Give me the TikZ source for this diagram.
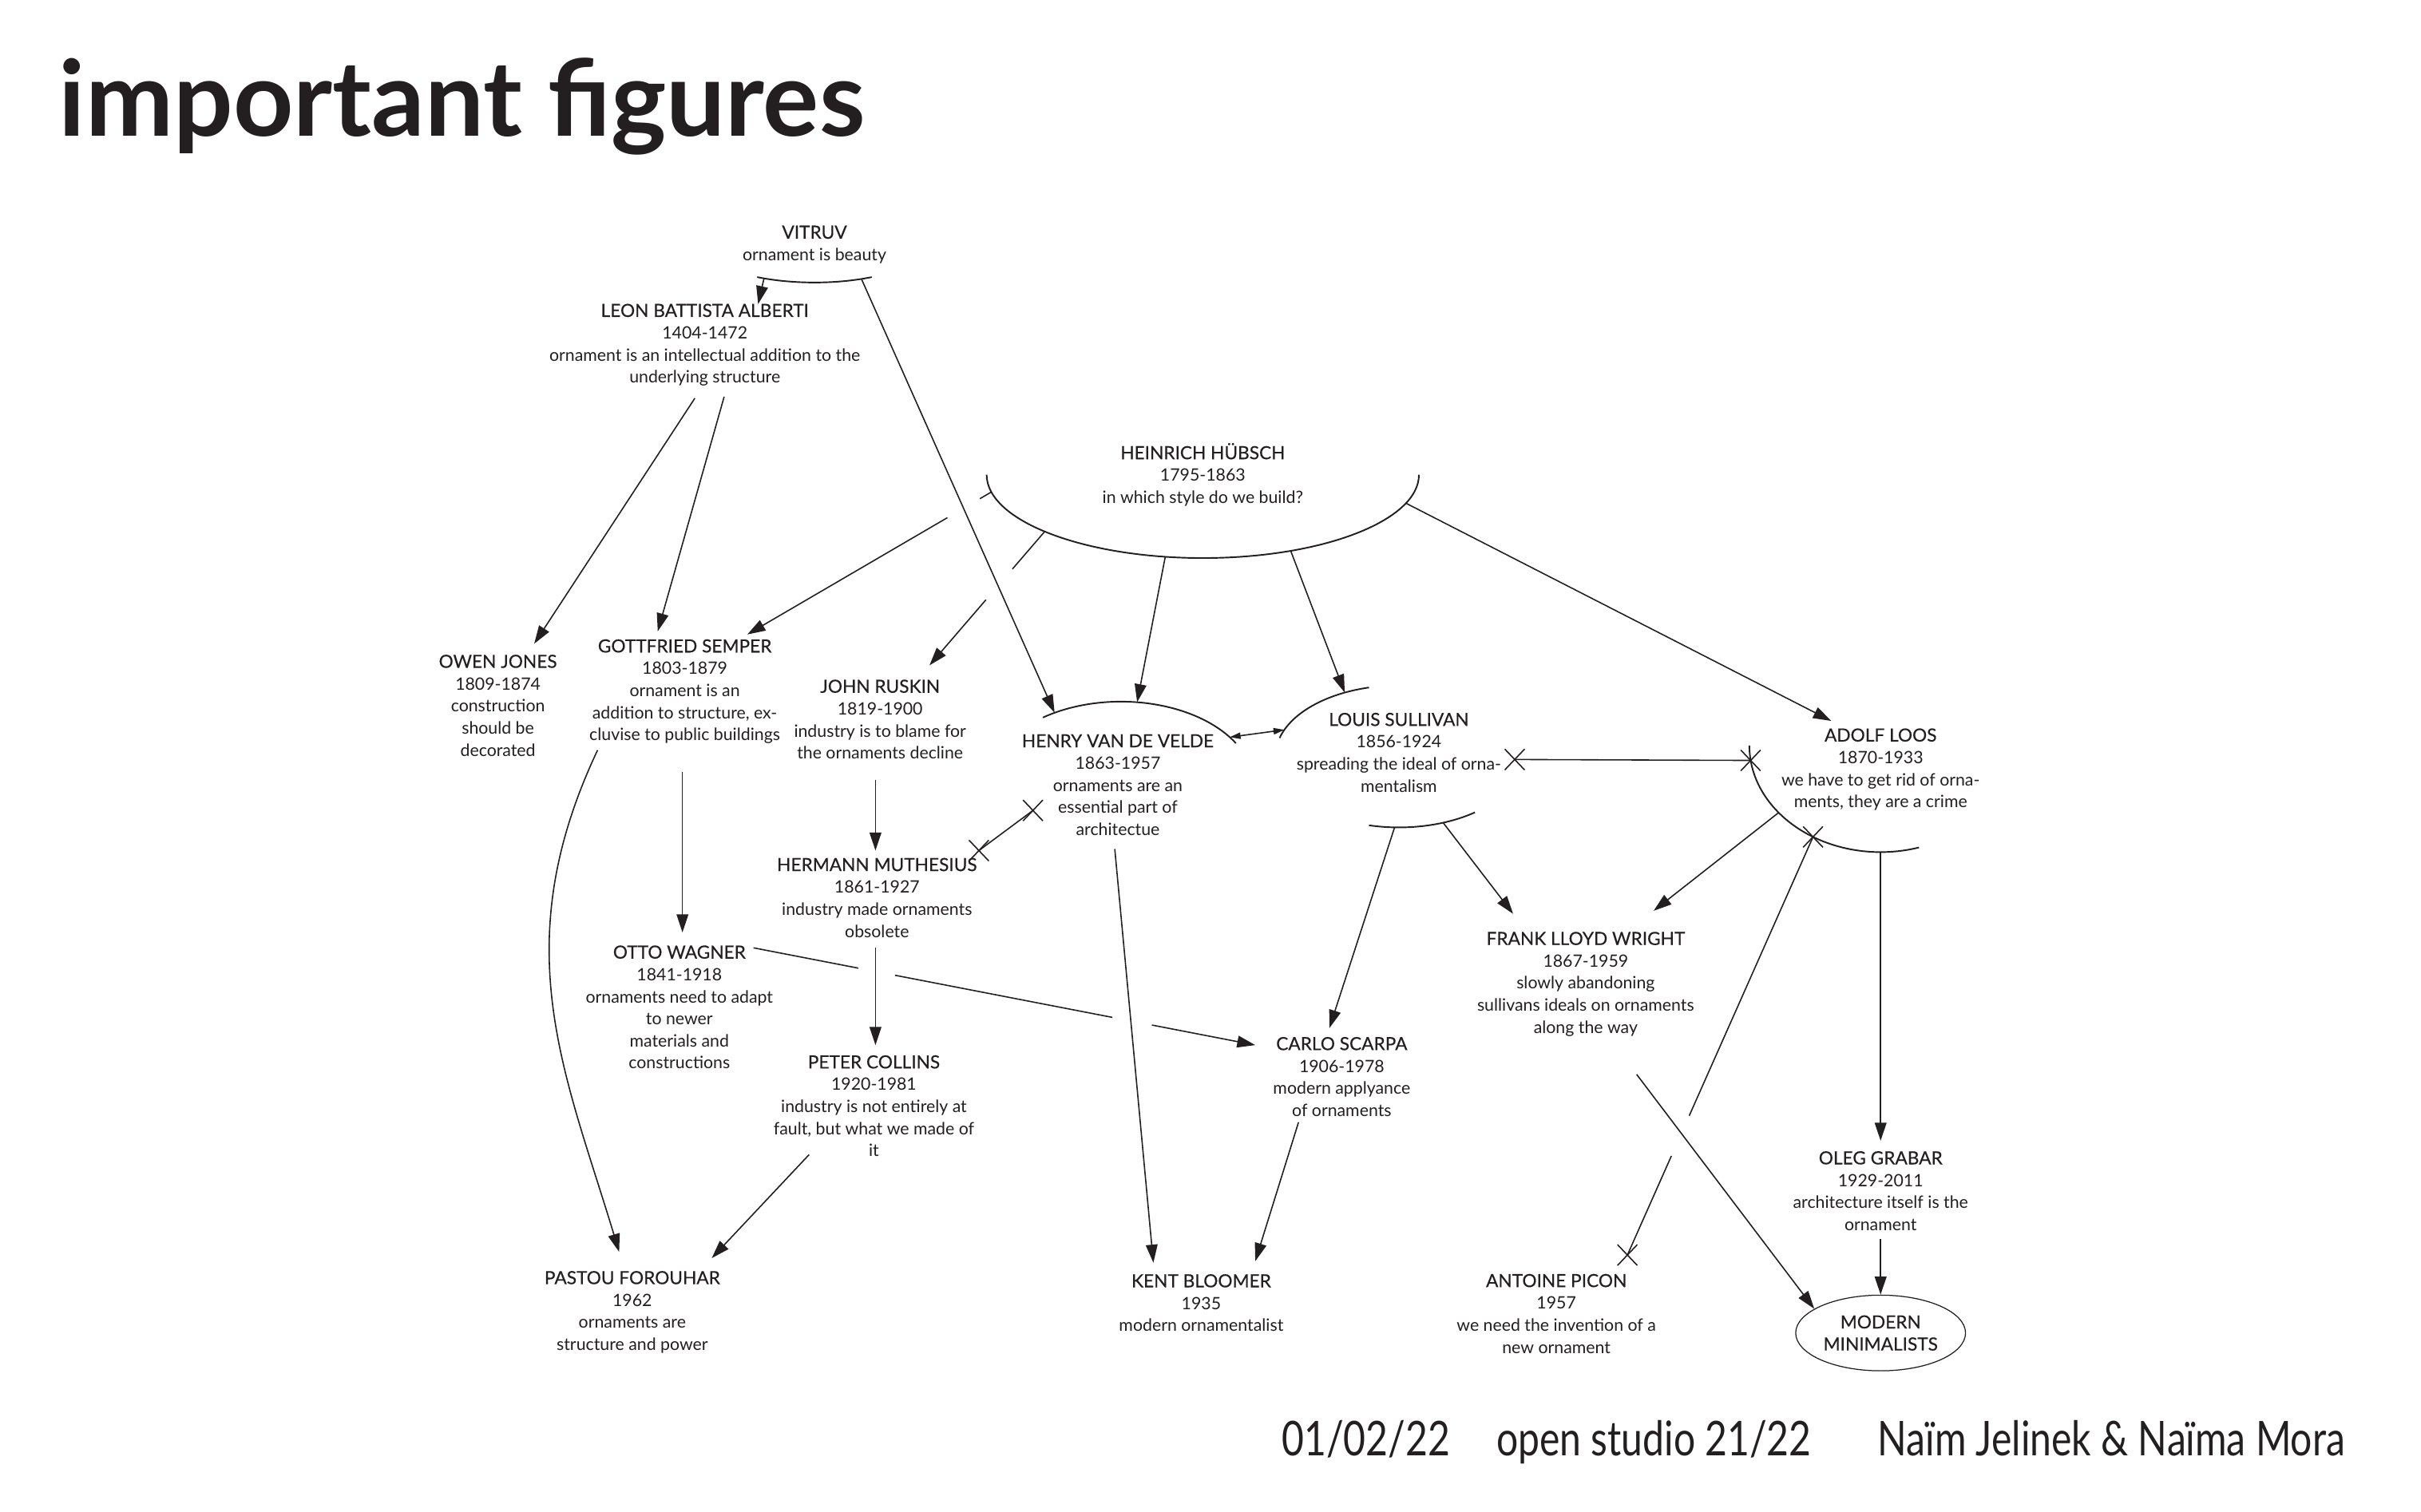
\documentclass[tikz,border=0pt]{standalone}
\usepackage{fontspec}
\setmainfont{Lato}
\newfontfamily\footfont{Lato}[FakeStretch=0.8]
\newfontfamily\namefont{Lato}[FakeBold=0.35]
\newcommand\who[1]{{\namefont\fontsize{10}{12.2}\selectfont #1}}
\usetikzlibrary{positioning,arrows.meta,shapes.geometric,shapes.misc,calc}
\definecolor{Ink}{RGB}{35,31,32}

\begin{document}
\begin{tikzpicture}[
    x=0.03cm, y=-0.03cm,
    person/.style={align=center, inner sep=0pt, text=Ink,
        font=\fontsize{9.4}{12.2}\selectfont},
    wire/.style={draw=Ink, line width=0.7pt},
    wirearrow/.style={wire, -{Triangle[length=10pt,width=6.5pt]}},
    wirepair/.style={wire, {Triangle[length=6pt,width=3.5pt]}-{Triangle[length=6pt,width=3.5pt]}},
    xmark/.style={cross out, draw=Ink, line width=0.7pt, inner sep=0pt,
        minimum width=0.36cm, minimum height=0.38cm},
    rim/.style={draw=Ink, line width=0.85pt},
    footer/.style={anchor=base west, inner sep=0pt, text=Ink,
        font=\footfont\fontsize{26.5}{28}\selectfont},
]
\path[use as bounding box, fill=white] (0,0) rectangle (1568,979);

\node[anchor=base west, inner sep=0pt, text=Ink,
    font=\fontsize{58}{62}\selectfont\bfseries] (title) at (38,88) {important figures};

% the figures
\node[person] (vitruv) at (527.5,158.5) {\who{VITRUV}\\ornament is beauty};
\node[person] (alberti) at (456.5,223.5) {\who{LEON BATTISTA ALBERTI}\\1404-1472\\ornament is an intellectual addition to the\\underlying structure};
\node[person] (huebsch) at (779,307.5) {\who{HEINRICH HÜBSCH}\\1795-1863\\in which style do we build?};
\node[person] (jones) at (322.5,457) {\who{OWEN JONES}\\1809-1874\\construction\\should be\\decorated};
\node[person] (semper) at (443.5,448) {\who{GOTTFRIED SEMPER}\\1803-1879\\ornament is an\\addition to structure, ex-\\cluvise to public buildings};
\node[person] (ruskin) at (570,466) {\who{JOHN RUSKIN}\\1819-1900\\industry is to blame for\\the ornaments decline};
\node[person] (velde) at (724,508.5) {\who{HENRY VAN DE VELDE}\\1863-1957\\ornaments are an\\essential part of\\architectue};
\node[person] (sullivan) at (906,487.5) {\who{LOUIS SULLIVAN}\\1856-1924\\spreading the ideal of orna-\\mentalism};
\node[person] (loos) at (1218,498.5) {\who{ADOLF LOOS}\\1870-1933\\we have to get rid of orna-\\ments, they are a crime};
\node[person] (muthesius) at (568,581.5) {\who{HERMANN MUTHESIUS}\\1861-1927\\industry made ornaments\\obsolete};
\node[person] (wagner) at (440,652.5) {\who{OTTO WAGNER}\\1841-1918\\ornaments need to adapt\\to newer\\materials and\\constructions};
\node[person] (collins) at (566,716.5) {\who{PETER COLLINS}\\1920-1981\\industry is not entirely at\\fault, but what we made of\\it};
\node[person] (wright) at (1027,637.5) {\who{FRANK LLOYD WRIGHT}\\1867-1959\\slowly abandoning\\sullivans ideals on ornaments\\along the way};
\node[person] (scarpa) at (869,697.5) {\who{CARLO SCARPA}\\1906-1978\\modern applyance\\of ornaments};
\node[person] (grabar) at (1218,771.5) {\who{OLEG GRABAR}\\1929-2011\\architecture itself is the\\ornament};
\node[person] (forouhar) at (409.5,850) {\who{PASTOU FOROUHAR}\\1962\\ornaments are\\structure and power};
\node[person] (bloomer) at (778,844) {\who{KENT BLOOMER}\\1935\\modern ornamentalist};
\node[person] (picon) at (1008,851) {\who{ANTOINE PICON}\\1957\\we need the invention of a\\new ornament};
\node[person, ellipse, draw=Ink, line width=0.55pt, minimum width=3.3cm,
    minimum height=1.47cm] (minimal) at (1218,863.5) {\who{MODERN}\\\who{MINIMALISTS}};

% rims round some of the figures
\draw[rim] (vitruv.center) ++(59:72 and 24.5) arc[start angle=59, end angle=121, x radius=72, y radius=24.5];
\draw[rim] (huebsch.center) ++(0:140 and 54) arc[start angle=0, end angle=180, x radius=140, y radius=54];
\draw[rim] (velde.center) ++(2,0) ++(234:86 and 54) arc[start angle=234, end angle=330, x radius=86, y radius=54];
\draw[rim] (sullivan.center) ++(0,2.5) ++(195:80 and 46) arc[start angle=195, end angle=256, x radius=80, y radius=46];
\draw[rim] (sullivan.center) ++(0,2.5) ++(52:80 and 46) arc[start angle=52, end angle=104, x radius=80, y radius=46];
\draw[rim] (loos.center) ++(0,-15.5) ++(73:85 and 69) arc[start angle=73, end angle=180, x radius=85, y radius=69];

\foreach \a in {65,117} \path (vitruv.center) ++(\a:72 and 24.5) coordinate (vi\a);
\foreach \a in {20,66,100,137,168} \path (huebsch.center) ++(\a:140 and 54) coordinate (hu\a);
\foreach \a in {240,277,325} \path (velde.center) ++(2,0) ++(\a:86 and 54) coordinate (ve\a);
\foreach \a in {69,92,202,244} \path (sullivan.center) ++(0,2.5) ++(\a:80 and 46) coordinate (su\a);
\foreach \a in {90,121,141,172} \path (loos.center) ++(0,-15.5) ++(\a:85 and 69) coordinate (lo\a);

% crossed-out ends
\node[xmark] (velde-x) at ($(velde)+(-55,16.5)$) {};
\node[xmark] (muthesius-x) at ($(muthesius)+(66,-30.5)$) {};
\node[xmark] (sullivan-x) at ($(sullivan)+(75,4.5)$) {};
\node[xmark] (loos-x1) at (lo172) {};
\node[xmark] (loos-x2) at (lo121) {};
\node[xmark] (picon-x) at ($(picon)+(46,-38)$) {};

% from Vitruv and Alberti
\draw[wirearrow] (vi117) -- ($(alberti)+(34.5,-26.5)$);
\draw[wirearrow] (vi65) -- (ve240);
\draw[wirearrow] ($(alberti)+(-6.5,34.5)$) -- ($(jones)+(23.5,-40)$);
\draw[wirearrow] ($(alberti)+(12.5,33.5)$) -- ($(semper)+(-17.5,-39)$);

% from Huebsch
\coordinate (semper-in) at ($(semper)+(40.5,-37)$);
\coordinate (ruskin-in) at ($(ruskin)+(32,-35)$);
\draw[wire] (hu168) -- ($(hu168)!0.047!(semper-in)$);
\draw[wirearrow] ($(hu168)!0.18!(semper-in)$) -- (semper-in);
\draw[wire] (hu137) -- ($(hu137)!0.28!(ruskin-in)$);
\draw[wirearrow] ($(hu137)!0.51!(ruskin-in)$) -- (ruskin-in);
\draw[wirearrow] (hu100) -- (ve277);
\draw[wirearrow] (hu66) -- (su244);
\draw[wirearrow] (hu20) -- ($(loos)+(-32,-31.5)$);

% van de Velde and Sullivan
\draw[wirepair] (ve325) -- (su202);
\draw[wire] (velde-x.center) -- (muthesius-x.center);
\draw[wirearrow] ($(velde)+(-2,41.5)$) -- ($(bloomer)+(-31,-26)$);
\draw[wire] (sullivan-x.center) -- (loos-x1.center);
\draw[wirearrow] (su92) -- ($(scarpa)+(-8,-31.5)$);
\draw[wirearrow] (su69) -- ($(wright)+(-47,-45.5)$);

% Loos
\draw[wirearrow] (lo141) -- ($(wright)+(44,-47.5)$);
\draw[wire] (loos-x2.center) -- ($(loos-x2.center)!0.667!(picon-x.center)$);
\draw[wire] ($(loos-x2.center)!0.763!(picon-x.center)$) -- (picon-x.center);
\draw[wirearrow] (lo90) -- ($(grabar)+(0,-32.5)$);
\draw[wirearrow] ($(grabar)+(0,31)$) -- (minimal.north);
\draw[wirearrow] ($(wright)+(33,58.5)$) -- (minimal.160);

% left and middle columns
\draw[wirearrow] ($(ruskin)+(-3,39)$) -- ($(muthesius)+(-1,-30.5)$);
\draw[wirearrow] ($(muthesius)+(-1,32.5)$) -- ($(collins)+(1,-39.5)$);
\draw[wirearrow] ($(semper)+(-1.5,52)$) -- ($(wagner)+(2,-48.5)$);
\draw[wirearrow] ($(semper)+(-56.5,38)$) .. controls +(-60,127) and +(-35,-116) .. ($(forouhar)+(-8.5,-39)$);
\draw[wirearrow] ($(collins)+(-42,31.5)$) -- ($(forouhar)+(51.5,-35)$);
\coordinate (wagner-out) at ($(wagner)+(48,-38.5)$);
\coordinate (scarpa-in) at ($(scarpa)+(-56,-20.5)$);
\draw[wire] (wagner-out) -- ($(wagner-out)!0.209!(scarpa-in)$);
\draw[wire] ($(wagner-out)!0.282!(scarpa-in)$) -- ($(wagner-out)!0.715!(scarpa-in)$);
\draw[wirearrow] ($(wagner-out)!0.794!(scarpa-in)$) -- (scarpa-in);
\draw[wirearrow] ($(scarpa)+(-28,29.5)$) -- ($(bloomer)+(35,-27)$);

% footer
\node[footer] (date) at (830,943) {01/02/22};
\node[footer] (studio) at (969,943) {open studio 21/22};
\node[footer] (authors) at (1216,943) {Naïm Jelinek \& Naïma Mora};
\end{tikzpicture}
\end{document}
